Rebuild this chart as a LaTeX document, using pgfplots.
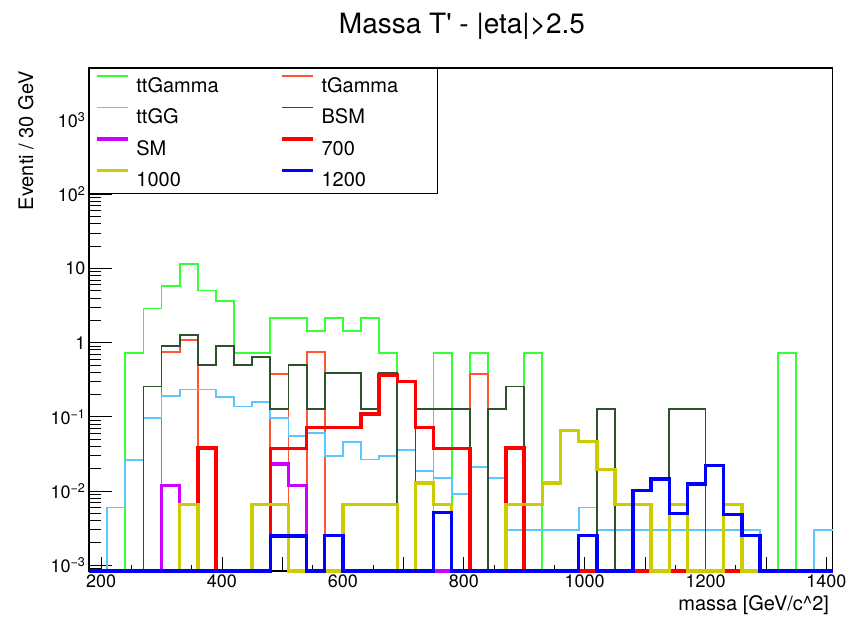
\documentclass[border=0pt]{standalone}
\usepackage{fontspec}
\setmainfont{TeX Gyre Heros}
\usepackage{pgfplots}
\usepackage{pgfplotstable}
\pgfplotsset{compat=1.18}
\definecolor{cttg}{RGB}{51,255,51}
\definecolor{ctg}{RGB}{255,85,51}
\definecolor{cttgg}{RGB}{90,200,255}
\definecolor{cbsm}{RGB}{45,80,45}
\definecolor{csm}{RGB}{204,0,255}
\definecolor{cs700}{RGB}{255,0,0}
\definecolor{cs1000}{RGB}{204,204,0}
\definecolor{cs1200}{RGB}{0,0,255}

\pgfplotstableread{
x ttg tg ttgg bsm sm s700 s1000 s1200
180 0 0 0 0 0 0 0 0
210 0 0 0.006 0 0 0 0 0
240 0.72 0 0.0265 0 0 0 0 0
270 2.88 0 0.0955 0.257 0 0 0 0
300 5.76 0.75 0.19 0.90 0.0119 0 0 0
330 11.5 1.08 0.234 1.27 0 0 0.0066 0
360 5.04 0 0.234 0.50 0 0.038 0 0
390 3.6 0 0.183 0.89 0 0 0 0
420 0.72 0 0.138 0.50 0 0 0 0
450 0.72 0 0.157 0.635 0 0 0.0066 0
480 2.16 0.376 0.0955 0.127 0.023 0.0375 0.0066 0.00246
510 2.16 0 0.0558 0.50 0.0119 0.0375 0 0.00246
540 1.44 0.75 0.061 0.127 0 0.072 0 0
570 2.16 0 0.030 0.387 0 0.072 0 0.0025
600 1.44 0 0.0455 0.387 0 0.072 0.0066 0
630 2.16 0 0.0266 0.127 0 0.110 0.0066 0
660 0.72 0 0.030 0.387 0 0.367 0.0066 0
690 0 0 0.0358 0 0 0.30 0 0
720 0 0 0.0185 0.127 0 0.072 0.0128 0
750 0.72 0 0.0149 0.127 0 0.0375 0.0066 0.0051
780 0 0 0.0090 0.127 0 0.0375 0 0
810 0.72 0.376 0.021 0 0 0 0 0
840 0 0 0.0149 0.127 0 0 0 0
870 0 0 0.003 0.257 0 0.0378 0.0066 0
900 0.72 0 0.003 0 0 0 0.0066 0
930 0 0 0.003 0 0 0 0.0128 0
960 0 0 0.003 0 0 0 0.065 0
990 0 0 0.006 0 0 0 0.0463 0.0025
1020 0 0 0.003 0.127 0 0 0.0195 0
1050 0 0 0.003 0 0 0 0.0066 0
1080 0 0 0.003 0 0 0 0.0066 0.0102
1110 0 0 0.003 0 0 0 0 0.0146
1140 0 0 0.003 0.127 0 0 0.0066 0.0050
1170 0 0 0.003 0.127 0 0 0 0.0125
1200 0 0 0.003 0 0 0 0 0.022
1230 0 0 0.003 0 0 0 0.0066 0.0048
1260 0 0 0.003 0 0 0 0 0.0025
1290 0 0 0 0 0 0 0 0
1320 0.72 0 0 0 0 0 0 0
1350 0 0 0 0 0 0 0 0
1380 0 0 0.003 0 0 0 0 0
1410 0 0 0.003 0 0 0 0 0
}\datatable

\newcommand{\lA}[1]{\makebox[144pt][l]{\rule[-4pt]{0pt}{23pt}#1}}
\newcommand{\lB}[1]{\makebox[110pt][l]{\rule[-4pt]{0pt}{23pt}#1}}

\begin{document}
\begin{tikzpicture}
\path[use as bounding box] (0,0) rectangle (849pt,617pt);
\begin{axis}[
  at={(89pt,46pt)}, anchor=south west,
  scale only axis, width=743.5pt, height=503pt,
  xmin=180, xmax=1410, ymode=log, ymin=8.35e-4, ymax=5040,
  clip=false,
  axis line style={line width=1.1pt, black},
  tick align=inside, tick pos=left,
  every tick/.style={black, line width=0.9pt},
  xtick={200,400,...,1400},
  minor x tick num=3,
  xtick style={/pgfplots/major tick length=14pt,/pgfplots/minor tick length=6pt},
  extra x ticks={300,500,700,900,1100,1300},
  extra x tick labels={},
  extra x tick style={major tick length=8pt},
  ytick={1e-3,1e-2,1e-1,1,10,100,1000},
  yticklabels={10\textsuperscript{\textminus 3},10\textsuperscript{\textminus 2},10\textsuperscript{\textminus 1},1,10,10\textsuperscript{2},10\textsuperscript{3}},
  minor ytick={9e-4,2e-3,3e-3,4e-3,5e-3,6e-3,7e-3,8e-3,9e-3,2e-2,3e-2,4e-2,5e-2,6e-2,7e-2,8e-2,9e-2,0.2,0.3,0.4,0.5,0.6,0.7,0.8,0.9,2,3,4,5,6,7,8,9,20,30,40,50,60,70,80,90,200,300,400,500,600,700,800,900,2000,3000,4000,5000},
  ytick style={/pgfplots/major tick length=23pt,/pgfplots/minor tick length=11.5pt},
  /pgf/number format/assume math mode=true,
  /pgf/number format/set thousands separator={},
  ticklabel style={font=\fontsize{18}{20}\selectfont},
  title={Massa T\textquotesingle{} - |eta|>2.5},
  title style={font=\fontsize{28}{32}\selectfont, at={(axis description cs:0.5017,1)}, anchor=base, yshift=28pt},
  xlabel={massa [GeV/c\textasciicircum 2]},
  xlabel style={font=\fontsize{20}{24}\selectfont, at={(axis description cs:1,0)}, anchor=base east, yshift=-40pt},
  ylabel={Eventi / 30 GeV},
  ylabel style={font=\fontsize{20}{24}\selectfont, at={(axis description cs:-0.0753,1)}, anchor=base east},
  legend columns=2,
  legend cell align=left,
  legend image code/.code={\draw[#1] (0pt,7.5pt) -- (31pt,7.5pt);},
  legend style={at={(0,1)}, anchor=north west, draw=black, fill=white,
    font=\fontsize{20}{24}\selectfont, inner xsep=6pt, inner ysep=5pt, row sep=11pt,
    /tikz/every odd column/.style={column sep=6.7pt},
    /tikz/every even column/.style={column sep=0pt},
    nodes={inner sep=0pt}},
]
\addplot[const plot mark left, color=cttg, line width=1.8pt] table[x=x, y expr={max(\thisrow{ttg},8.35e-4)}] {\datatable};
\addlegendentry{\lA{ttGamma}}
\addplot[const plot mark left, color=ctg, line width=1.8pt] table[x=x, y expr={max(\thisrow{tg},8.35e-4)}] {\datatable};
\addlegendentry{\lB{tGamma}}
\addplot[const plot mark left, color=cttgg, line width=1.8pt] table[x=x, y expr={max(\thisrow{ttgg},8.35e-4)}] {\datatable};
\addlegendentry{\lA{ttGG}}
\addplot[const plot mark left, color=cbsm, line width=1.8pt] table[x=x, y expr={max(\thisrow{bsm},8.35e-4)}] {\datatable};
\addlegendentry{\lB{BSM}}
\addplot[const plot mark left, color=csm, line width=3.5pt] table[x=x, y expr={max(\thisrow{sm},8.35e-4)}] {\datatable};
\addlegendentry{\lA{SM}}
\addplot[const plot mark left, color=cs700, line width=3.5pt] table[x=x, y expr={max(\thisrow{s700},8.35e-4)}] {\datatable};
\addlegendentry{\lB{700}}
\addplot[const plot mark left, color=cs1000, line width=3.5pt] table[x=x, y expr={max(\thisrow{s1000},8.35e-4)}] {\datatable};
\addlegendentry{\lA{1000}}
\addplot[const plot mark left, color=cs1200, line width=3.5pt] table[x=x, y expr={max(\thisrow{s1200},8.35e-4)}] {\datatable};
\addlegendentry{\lB{1200}}
\end{axis}
\end{tikzpicture}
\end{document}
